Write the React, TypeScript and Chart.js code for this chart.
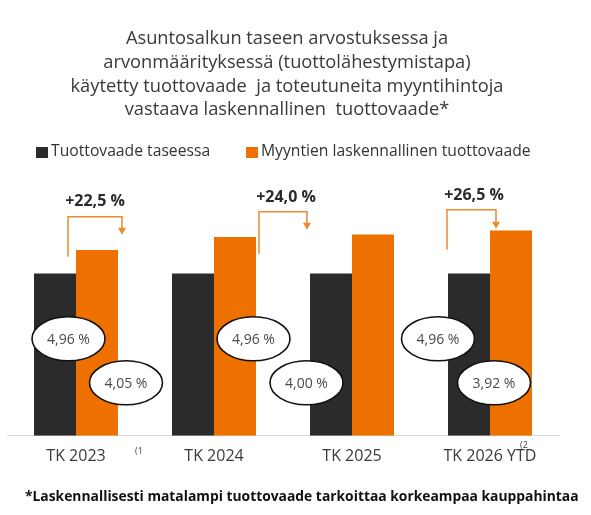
import { useEffect, useRef } from "react";
import { Chart, registerables } from "chart.js";

Chart.register(...registerables);

// Categories and series (bar heights as a price index, balance-sheet yield = 100)
const categories = ["TK 2023", "TK 2024", "TK 2025", "TK 2026 YTD"];
const categoryNotes = ["(1", null, null, "(2"];
const balanceIndex = [100, 100, 100, 100];
const salesIndex = [114.5, 122.5, 124.0, 126.5];

// Yield labels shown in the ovals, and the change shown above each pair
const balanceYieldLabels = ["4,96 %", "4,96 %", null, "4,96 %"];
const salesYieldLabels = ["4,05 %", "4,00 %", null, "3,92 %"];
const changeLabels = ["+22,5 %", "+24,0 %", null, "+26,5 %"];

const seriesNames = ["Tuottovaade taseessa", "Myyntien laskennallinen tuottovaade"];
const titleLines = [
  "Asuntosalkun taseen arvostuksessa ja",
  "arvonmäärityksessä (tuottolähestymistapa)",
  "käytetty tuottovaade  ja toteutuneita myyntihintoja",
  "vastaava laskennallinen  tuottovaade*",
];
const footnote = "*Laskennallisesti matalampi tuottovaade tarkoittaa korkeampaa kauppahintaa";

const DARK = "#2b2b2c";
const ORANGE = "#ee7100";
const BRACKET = "#ee8a2e";
const FONT = "'Open Sans', sans-serif";

// Per-category placement of the change brackets and ovals, relative to the category centre
const bracketX = [[-8, 46], [45, 93], null, [-43, 6]];
const bracketY = [[179, 219, 201], [182, 224, 206], null, [186, 226, 207]]; // start, top, arrow tip (px above baseline)
const changeLabelX = [19, 72, 0, -16];
const changeLabelY = [234, 238, 240];
const ovalX = [[-7.5, 50], [39.5, 92.5], null, [-52, 4]];

function ellipse(ctx: CanvasRenderingContext2D, cx: number, cy: number, text: string) {
  ctx.save();
  ctx.beginPath();
  ctx.ellipse(cx, cy, 36.5, 22, 0, 0, Math.PI * 2);
  ctx.fillStyle = "#ffffff";
  ctx.fill();
  ctx.lineWidth = 1.6;
  ctx.strokeStyle = "#111111";
  ctx.stroke();
  ctx.fillStyle = "#4a4a4a";
  ctx.font = `14px ${FONT}`;
  ctx.textAlign = "center";
  ctx.textBaseline = "middle";
  ctx.fillText(text, cx, cy + 1);
  ctx.restore();
}

const decorations = {
  id: "decorations",
  afterDraw(chart: Chart) {
    const ctx = chart.ctx;
    const xs = chart.scales.x;
    const base = chart.chartArea.bottom;
    ctx.save();

    // Title
    ctx.fillStyle = "#3a3a3a";
    ctx.font = `18.3px ${FONT}`;
    ctx.textAlign = "center";
    ctx.textBaseline = "middle";
    titleLines.forEach((line, i) => ctx.fillText(line, 287, 39 + i * 23.7));

    // Legend
    ctx.font = `15.7px ${FONT}`;
    ctx.textAlign = "left";
    ctx.fillStyle = DARK;
    ctx.fillRect(36, 147, 12, 11);
    ctx.fillStyle = "#333333";
    ctx.fillText(seriesNames[0], 51, 152);
    ctx.fillStyle = ORANGE;
    ctx.fillRect(246, 147, 12, 11);
    ctx.fillStyle = "#333333";
    ctx.fillText(seriesNames[1], 261, 152);

    // Change brackets with arrows
    categories.forEach((_, i) => {
      const bx = bracketX[i];
      const by = bracketY[i];
      const cx = xs.getPixelForValue(i);
      if (bx && by) {
        const x0 = cx + bx[0];
        const x1 = cx + bx[1];
        ctx.strokeStyle = BRACKET;
        ctx.lineWidth = 1.5;
        ctx.beginPath();
        ctx.moveTo(x0, base - by[0]);
        ctx.lineTo(x0, base - by[1]);
        ctx.lineTo(x1, base - by[1]);
        ctx.lineTo(x1, base - by[2] - 6);
        ctx.stroke();
        ctx.fillStyle = BRACKET;
        ctx.beginPath();
        ctx.moveTo(x1 - 4, base - by[2] - 7);
        ctx.lineTo(x1 + 4, base - by[2] - 7);
        ctx.lineTo(x1, base - by[2]);
        ctx.closePath();
        ctx.fill();
      }
    });

    ctx.font = `bold 16px ${FONT}`;
    ctx.fillStyle = "#2a2a2a";
    ctx.textAlign = "center";
    let k = 0;
    changeLabels.forEach((label, i) => {
      if (!label) return;
      ctx.fillText(label, xs.getPixelForValue(i) + changeLabelX[i], base - changeLabelY[k]);
      k++;
    });

    // Yield ovals
    categories.forEach((_, i) => {
      const ox = ovalX[i];
      const cx = xs.getPixelForValue(i);
      const a = balanceYieldLabels[i];
      const b = salesYieldLabels[i];
      if (ox && a) ellipse(ctx, cx + ox[0], base - 97, a);
      if (ox && b) ellipse(ctx, cx + ox[1], base - 53, b);
    });

    // Footnote markers next to category labels
    ctx.font = `9px ${FONT}`;
    ctx.fillStyle = "#444444";
    ctx.textAlign = "left";
    const noteX = [59, 0, 0, 30];
    categoryNotes.forEach((n, i) => {
      if (!n) return;
      ctx.fillText(n, xs.getPixelForValue(i) + noteX[i], i === 0 ? 451 : 445);
    });

    // Footnote
    ctx.font = `bold 13.85px ${FONT}`;
    ctx.fillStyle = "#111111";
    ctx.textAlign = "left";
    ctx.fillText(footnote, 25, 497);

    ctx.restore();
  },
};

export default function App() {
  const ref = useRef<HTMLCanvasElement | null>(null);

  useEffect(() => {
    document.body.style.margin = "0";
    const canvas = ref.current;
    if (!canvas) return;
    const chart = new Chart(canvas, {
      type: "bar",
      data: {
        labels: categories,
        datasets: [
          { label: seriesNames[0], data: balanceIndex, backgroundColor: DARK },
          { label: seriesNames[1], data: salesIndex, backgroundColor: ORANGE },
        ],
      },
      options: {
        responsive: false,
        animation: false,
        devicePixelRatio: 1,
        datasets: { bar: { barPercentage: 1, categoryPercentage: 84 / 138 } },
        layout: { padding: { left: 7, right: 32, top: 176, bottom: 38 } },
        plugins: { legend: { display: false }, title: { display: false }, tooltip: { enabled: false } },
        scales: {
          x: {
            grid: { display: false, drawTicks: false },
            border: { display: true, color: "#d9d9d9", width: 1 },
            ticks: { color: "#3a3a3a", font: { family: FONT, size: 16 }, padding: 11 },
          },
          y: { display: false, min: 0, max: 160 },
        },
      },
      plugins: [decorations],
    });
    return () => chart.destroy();
  }, []);

  return <canvas ref={ref} width={591} height={515} style={{ display: "block" }} />;
}
